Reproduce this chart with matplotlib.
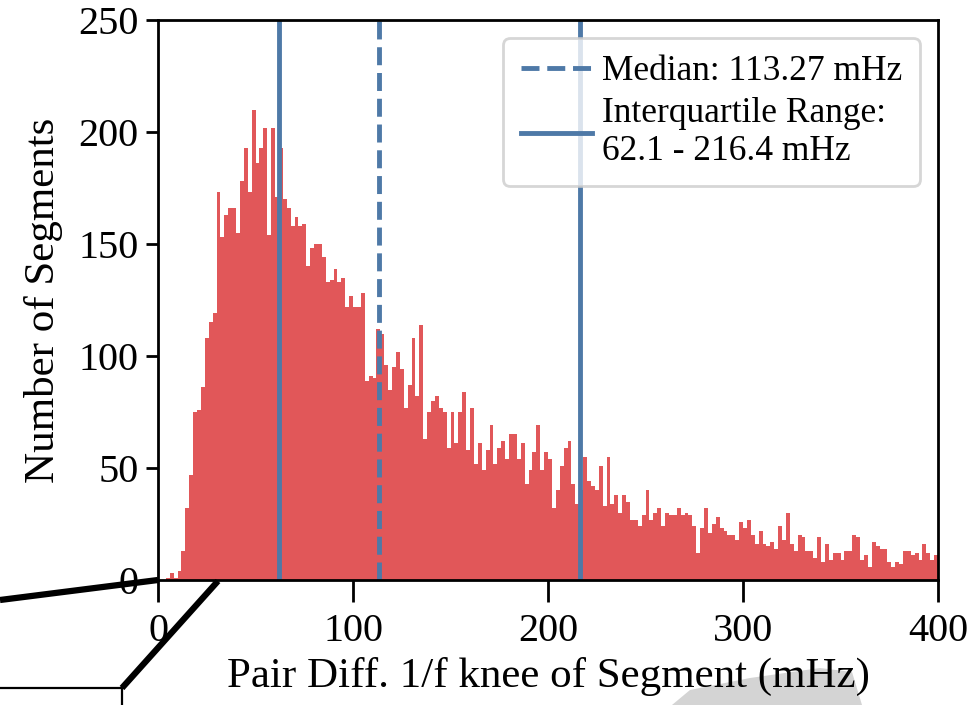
"""
Histogram of pair-differenced 1/f knee frequencies per segment.
"""
import matplotlib
matplotlib.use("Agg")
import matplotlib.pyplot as plt
import numpy as np
from matplotlib.lines import Line2D
from matplotlib.patches import Polygon

plt.rcParams["font.family"] = ["Liberation Serif", "DejaVu Serif"]

# 2 mHz bins from 0 to 400 mHz
BIN_WIDTH = 2
BIN_START = 0
counts = [
    0, 0,
    1, 3, 1, 4, 13, 32, 47, 75, 76, 86, 108, 115, 119, 173, 153, 163, 166, 166,
    155, 178, 193, 173, 210, 186, 193, 202, 154, 202, 171, 193, 170, 166,
    158, 162, 158, 159, 140, 148, 150, 150, 144, 133, 134, 139, 133, 135, 122, 127,
    122, 122, 128, 89, 91, 90, 112, 110, 96, 85, 95, 102, 94, 77, 87, 108, 82,
    114, 63, 75, 80, 82, 77, 75, 59, 75, 61, 75, 84, 58, 77, 52, 61, 49, 58, 69,
    52, 59, 62, 54, 65, 65, 54, 61, 43, 49, 57, 69, 49, 57,
    54, 32, 40, 51, 59, 62, 43, 34, 40, 55, 44, 42, 40, 51, 33, 55, 34, 38, 30, 38,
    35, 27, 27, 24, 29, 40, 27, 30, 32, 24, 30, 29, 29,
    32, 29, 30, 29, 24, 12, 23, 32, 21, 25, 28, 23, 22, 20, 20, 18, 26, 23, 27, 20,
    16, 22, 16, 15, 17, 14, 24, 18, 30, 16, 13, 20, 19,
    13, 13, 10, 19, 8, 16, 9, 12, 12, 9, 13, 13, 20, 19, 9, 11, 6, 17, 15, 14,
    14, 8, 6, 8, 7, 13, 13, 11, 12, 9, 16, 12, 9, 11,
]

median = 113.27
iqr_low = 62.1
iqr_high = 216.4

RED = "#e15759"
BLUE = "#4e79a7"

edges = BIN_START + BIN_WIDTH * np.arange(len(counts) + 1)
centers = 0.5 * (edges[:-1] + edges[1:])

fig = plt.figure(figsize=(9.71, 7.05), dpi=100)
ax = fig.add_axes([158 / 971, 1 - 580 / 705, 780 / 971, 560 / 705])
ax.patch.set_alpha(0)

ax.hist(centers, bins=edges, weights=counts, color=RED)
ax.axvline(median, color=BLUE, lw=3.5, ls="--", label=f"Median: {median:.2f} mHz")
ax.axvline(iqr_low, color=BLUE, lw=3.5, ls="-",
           label=f"Interquartile Range:\n{iqr_low:.1f} - {iqr_high:.1f} mHz")
ax.axvline(iqr_high, color=BLUE, lw=3.5, ls="-")

ax.set_xlim(0, 400)
ax.set_ylim(0, 250)
ax.set_xticks([0, 100, 200, 300, 400])
ax.set_yticks([0, 50, 100, 150, 200, 250])
ax.tick_params(labelsize=29, width=2, direction="out")
ax.tick_params(axis="y", length=9, pad=5)
ax.tick_params(axis="x", length=16, pad=8)
for s in ax.spines.values():
    s.set_linewidth(2)

ax.set_xlabel("Pair Diff. 1/f knee of Segment (mHz)", fontsize=31, labelpad=5)
ax.set_ylabel("Number of Segments", fontsize=31, labelpad=11)

leg = ax.legend(loc="upper right", fontsize=25.5, handlelength=2.0,
                borderaxespad=0.5, labelspacing=0.25, handletextpad=0.3,
                borderpad=0.5)
leg.get_frame().set_linewidth(2)

# leftover connector lines and smudge from the source screenshot
W, H = 971, 705
def fl(xs, ys, lw):
    fig.add_artist(Line2D([x / W for x in xs], [1 - y / H for y in ys],
                          transform=fig.transFigure, color="black", lw=lw,
                          solid_capstyle="butt", zorder=5))
fl([0, 158], [600, 580], 4.5)
fl([122, 218], [688, 581], 4.5)
fl([0, 122], [688, 688], 1.6)
fl([122, 122], [688, 705], 1.6)
smudge = [(672, 705), (690, 690), (750, 678), (820, 668), (852, 672), (862, 705)]
fig.add_artist(Polygon([(x / W, 1 - y / H) for x, y in smudge], closed=True,
                       transform=fig.transFigure, color="#d4d4d4", lw=0,
                       zorder=-1))

fig.savefig("out.png", dpi=100)
